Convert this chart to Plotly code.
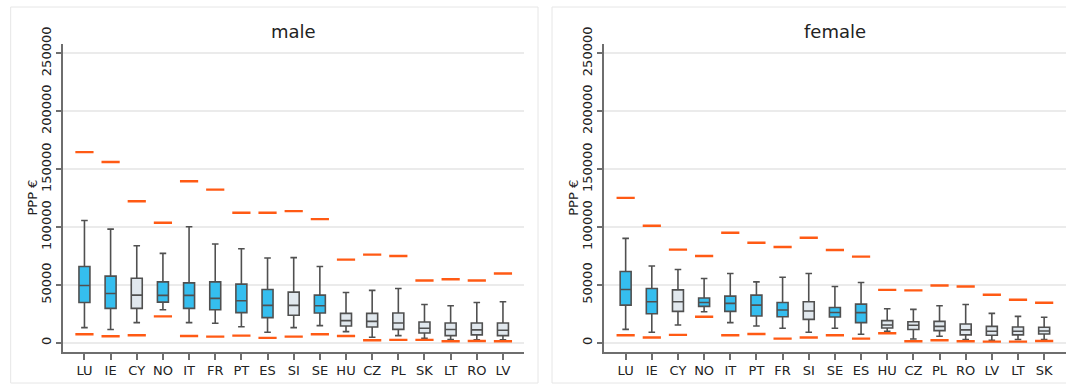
import plotly.graph_objects as go

# ---------------- data ----------------
male_countries = ["LU", "IE", "CY", "NO", "IT", "FR", "PT", "ES", "SI", "SE", "HU", "CZ", "PL", "SK", "LT", "RO", "LV"]
male_group = ["b", "b", "g", "b", "b", "b", "b", "b", "g", "b", "g", "g", "g", "g", "g", "g", "g"]
male_upper = [105700, 98200, 83900, 77300, 100200, 85300, 81300, 73300, 73600, 65900, 43500, 45300, 47000, 33200, 32100, 34900, 35500]
male_q3 = [65900, 57600, 55800, 52700, 51800, 52700, 50700, 46100, 43800, 41200, 25500, 25500, 25800, 18000, 17200, 17200, 17200]
male_median = [49500, 42700, 41200, 41000, 41000, 38400, 36400, 32400, 32400, 32100, 19200, 18600, 17200, 12600, 11500, 11200, 10900]
male_q1 = [34900, 29800, 29800, 35200, 29800, 28600, 26100, 21800, 23800, 25800, 14600, 13700, 11700, 8600, 6300, 6900, 6300]
male_lower = [13200, 11500, 17500, 28600, 17500, 16900, 14000, 9200, 13200, 14900, 9700, 4900, 6300, 4000, 2900, 2600, 2600]
male_max = [164700, 156100, 122300, 103700, 139500, 132300, 112300, 112300, 113700, 106800, 71900, 76200, 75000, 53800, 55000, 53800, 59900]
male_min = [7400, 5700, 6600, 22900, 6000, 5400, 6300, 4300, 5400, 7400, 6000, 2300, 2600, 2600, 1400, 1700, 1400]

female_countries = ["LU", "IE", "CY", "NO", "IT", "PT", "FR", "SI", "SE", "ES", "HU", "CZ", "PL", "RO", "LV", "LT", "SK"]
female_group = ["b", "b", "g", "b", "b", "b", "b", "g", "b", "b", "g", "g", "g", "g", "g", "g", "g"]
female_upper = [90200, 66400, 63300, 55600, 59900, 52700, 56700, 59900, 48700, 52100, 29500, 28900, 32100, 33200, 25500, 22900, 22100]
female_q3 = [61600, 47000, 45800, 38700, 40400, 41200, 34900, 35500, 30600, 33500, 19200, 18300, 18600, 16300, 14300, 13700, 13500]
female_median = [46100, 35500, 35500, 34900, 34100, 32600, 28400, 27500, 26300, 26100, 15500, 15200, 14300, 11200, 10000, 10000, 10300]
female_q1 = [32600, 25200, 27200, 31500, 27200, 23200, 22600, 20300, 22300, 17500, 12900, 11500, 10600, 6900, 6600, 6900, 7700]
female_lower = [11700, 9200, 15500, 26900, 17500, 14600, 12600, 9200, 12600, 7400, 10000, 3400, 5700, 2900, 2300, 2900, 2900]
female_max = [125200, 101100, 80500, 75000, 95100, 86500, 82800, 90800, 80200, 74500, 45800, 45300, 49500, 48700, 41500, 37200, 34700]
female_min = [6600, 4600, 6900, 22600, 6600, 7700, 3700, 4600, 6600, 3700, 8300, 1400, 2300, 1400, 1100, 1100, 1700]

panel_titles = ["male", "female"]
y_tick_values = [0, 50000, 100000, 150000, 200000, 250000]
y_title = "PPP €"

# ---------------- styling ----------------
W, H = 1066, 385
FONT = "DejaVu Sans"
BLUE = "#35BEEF"
GREY = "#E1E8EE"
EDGE = "#505050"
ORANGE = "#FF5A14"
GRID = "#EBEBEB"
AXIS = "#6E6E6E"

plot_left = [63, 604.2]
plot_w = 461.4
plot_top, plot_bottom = 44, 351.7

fig = go.Figure()

panels = [
    (male_countries, male_group, male_upper, male_q3, male_median, male_q1, male_lower, male_max, male_min),
    (female_countries, female_group, female_upper, female_q3, female_median, female_q1, female_lower, female_max, female_min),
]

for i, (cats, grp, up, q3, med, q1, lo, mx, mn) in enumerate(panels):
    xa = "x" if i == 0 else "x2"
    ya = "y" if i == 0 else "y2"
    for g, col in (("b", BLUE), ("g", GREY)):
        idx = [k for k, v in enumerate(grp) if v == g]
        fig.add_trace(go.Box(
            x=[cats[k] for k in idx],
            q1=[q1[k] for k in idx],
            median=[med[k] for k in idx],
            q3=[q3[k] for k in idx],
            lowerfence=[lo[k] for k in idx],
            upperfence=[up[k] for k in idx],
            fillcolor=col,
            line=dict(color=EDGE, width=1.6),
            width=0.42,
            whiskerwidth=0.6,
            boxpoints=False,
            hoverinfo="skip",
            showlegend=False,
            xaxis=xa, yaxis=ya,
        ))
    for vals in (mx, mn):
        fig.add_trace(go.Scatter(
            x=cats, y=vals, mode="markers",
            marker=dict(symbol="line-ew", size=13, line=dict(color=ORANGE, width=2.4)),
            hoverinfo="skip", showlegend=False,
            xaxis=xa, yaxis=ya,
        ))

ydom = [(H - plot_bottom) / H, (H - plot_top) / H]

def xaxis_cfg(cats, left):
    return dict(
        domain=[left / W, (left + plot_w) / W],
        type="category", categoryorder="array", categoryarray=cats,
        range=[-0.82, len(cats) - 1 + 0.82],
        showline=True, linecolor=AXIS, linewidth=2,
        ticks="outside", ticklen=6, tickcolor=AXIS, tickwidth=1.5,
        showgrid=False, zeroline=False, automargin=False,
        tickfont=dict(family=FONT, size=13, color="#222"),
        fixedrange=True,
    )

def yaxis_cfg(anchor):
    return dict(
        domain=ydom, anchor=anchor,
        range=[-7600, 258000],
        tickvals=y_tick_values, tickformat="d", tickangle=-90,
        showline=True, linecolor=AXIS, linewidth=2,
        ticks="outside", ticklen=5, tickcolor=AXIS, tickwidth=1.5,
        showgrid=True, gridcolor=GRID, gridwidth=1.5, zeroline=False,
        automargin=False,
        tickfont=dict(family=FONT, size=13, color="#222"),
        fixedrange=True,
    )

fig.update_layout(
    width=W, height=H,
    margin=dict(l=0, r=0, t=0, b=0),
    paper_bgcolor="white", plot_bgcolor="white",
    boxmode="overlay",
    showlegend=False,
    xaxis=dict(xaxis_cfg(male_countries, plot_left[0]), anchor="y"),
    yaxis=yaxis_cfg("x"),
    xaxis2=dict(xaxis_cfg(female_countries, plot_left[1]), anchor="y2"),
    yaxis2=yaxis_cfg("x2"),
)

# card borders
for x0, x1 in ((10.7, 538), (552, 1080)):
    fig.add_shape(type="rect", xref="paper", yref="paper",
                  x0=x0 / W, x1=x1 / W, y0=(H - 383) / H, y1=(H - 7) / H,
                  line=dict(color="#E6E6E6", width=1), fillcolor="rgba(0,0,0,0)", layer="below")

# panel titles and y titles
for i, t in enumerate(panel_titles):
    cx = plot_left[i] + plot_w / 2
    fig.add_annotation(text=t, xref="paper", yref="paper", x=cx / W, y=(H - 31.7) / H,
                       xanchor="center", yanchor="middle", showarrow=False,
                       font=dict(family=FONT, size=18, color="#222"))
    fig.add_annotation(text=y_title, xref="paper", yref="paper",
                       x=(plot_left[i] - 30.3) / W, y=(H - (plot_top + plot_bottom) / 2) / H,
                       xanchor="center", yanchor="middle", textangle=-90, showarrow=False,
                       font=dict(family=FONT, size=13, color="#222"))

fig.write_html("out.html")
